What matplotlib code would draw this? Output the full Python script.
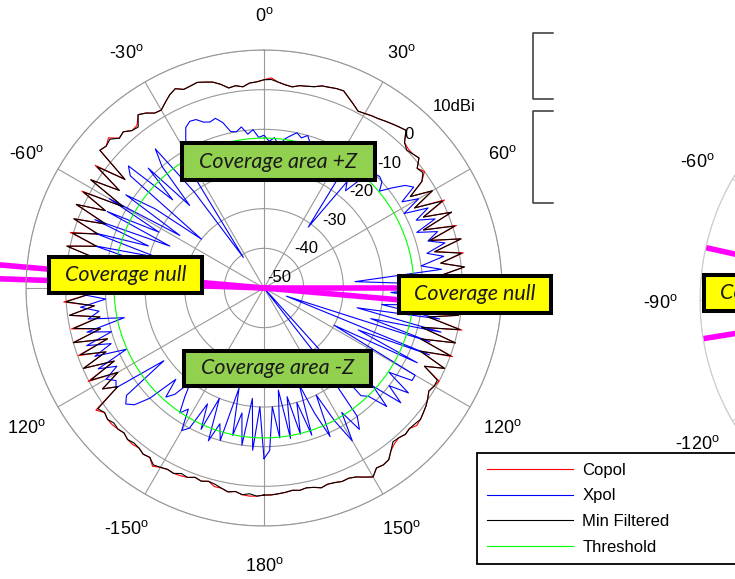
import numpy as np
import matplotlib.pyplot as plt
from matplotlib.patches import Rectangle
from matplotlib.lines import Line2D
from matplotlib.transforms import offset_copy

plt.rcParams['font.family'] = ['Liberation Sans', 'DejaVu Sans']
plt.rcParams['mathtext.fontset'] = 'custom'
plt.rcParams['mathtext.rm'] = 'Liberation Sans'

W, H = 735, 579

# antenna cut, 2 deg steps from -180 to 178 deg, values in dBi
angle_deg = np.arange(-180, 180, 2)

copol = [
    2.2, 2.5, 2.6, 2.4, 1.8, 2.2, 1.6, 1.6, 0.7, 1.2,
    0.8, 1.5, 1.8, 2.0, 1.8, 2.2, 3.0, 1.5, 1.8, 1.2,
    1.5, 1.4, 0.8, 1.2, 1.5, 1.5, 1.0, 2.4, -5.5, -2.0,
    -7.5, 0.2, -8.0, -0.2, -7.0, -0.2, -8.5, 0.0, -7.5, -0.4,
    -8.0, -0.5, -7.0, 0.6, -6.0, -0.5, -5.0, 0.0, -6.5, 1.0,
    -7.0, 0.8, -6.5, 0.8, -6.0, 1.0, -7.0, 1.8, -5.5, 2.0,
    -9.0, 1.5, -6.0, 2.6, -5.5, 4.0, 3.5, 4.5, 2.5, 3.0,
    1.8, 2.0, 4.0, 3.2, 2.0, 1.8, 3.0, 4.2, 5.0, 4.0,
    4.2, 4.5, 4.0, 3.5, 2.5, 1.2, 1.5, 1.0, 1.8, 2.0,
    2.5, 3.0, 2.0, 1.5, 1.2, 1.8, 2.0, 2.3, 3.0, 3.2,
    3.5, 3.6, 2.5, 1.5, 0.5, 0.8, 1.2, 1.5, 2.0, 2.5,
    3.0, 3.5, 1.0, 0.5, 0.5, 1.0, -1.0, 0.0, -2.0, -6.5,
    -1.0, -7.0, 0.6, -6.0, 1.0, -7.2, 1.0, -6.5, 1.2, -6.0,
    1.0, -5.0, 0.8, -5.5, 0.0, -5.0, 0.2, -6.0, 0.6, -0.5,
    -8.0, 1.0, -9.0, 0.2, -8.5, 0.6, -7.5, -0.2, -5.0, 0.0,
    -0.5, -1.0, -0.2, 0.5, 1.0, 1.5, 1.8, 1.0, 1.3, 0.8,
    1.2, 2.0, 3.5, 3.8, 3.5, 5.0, 4.0, 3.0, 2.5, 2.6,
    2.2, 2.0, 2.4, 1.8, 1.5, 1.8, 1.5, 1.8, 2.0, 2.2,
]

xpol = [
    -7.0, -20.0, -9.0, -22.0, -10.0, -18.0, -12.0, -24.0, -10.0, -14.0,
    -9.0, -20.0, -11.0, -17.5, -10.0, -8.5, -14.0, -12.0, -16.0, -20.0,
    -15.0, -13.0, -18.0, -10.0, -6.0, -4.5, -6.0, -18.8, -5.0, -6.0,
    -4.0, -8.0, -3.5, -12.0, -4.0, -9.0, -3.0, -10.0, -4.0, -14.0,
    -5.0, -8.0, -3.5, -10.0, -4.0, -6.0, -4.0, -15.0, -4.0, -20.0,
    -5.0, -18.0, -6.0, -22.0, -5.0, -19.0, -4.0, -24.0, -6.0, -20.0,
    -5.0, -25.0, -8.0, -16.0, -30.0, -6.0, -4.0, -18.0, -8.0, -22.0,
    -10.0, -5.5, -20.0, -40.7, -15.0, -12.0, -8.0, -5.0, -4.0, -4.2,
    -5.5, -6.0, -5.5, -7.0, -9.7, -10.0, -9.0, -11.0, -10.0, -12.0,
    -11.5, -13.0, -12.0, -14.0, -12.0, -11.0, -10.0, -11.0, -10.0, -12.0,
    -12.0, -13.0, -12.0, -14.0, -13.0, -15.0, -14.0, -16.0, -31.0, -16.0,
    -18.0, -12.0, -10.0, -9.5, -10.0, -12.0, -9.0, -6.0, -4.5, -9.0,
    -5.0, -10.0, -4.0, -8.0, -3.5, -9.0, -4.0, -7.0, -3.0, -8.0,
    -4.0, -10.0, -5.0, -27.0, -15.0, -6.0, -18.0, -5.0, -9.0, -20.0,
    -5.0, -26.0, -4.0, -22.0, -6.0, -44.0, -5.0, -24.0, -7.0, -30.0,
    -6.0, -6.0, -12.0, -5.0, -10.0, -5.0, -13.0, -7.0, -12.0, -13.5,
    -50.0, -29.0, -10.0, -7.0, -13.0, -5.5, -12.0, -20.0, -9.0, -16.0,
    -24.0, -11.0, -20.0, -12.0, -22.0, -11.5, -24.0, -12.0, -20.0, -9.0,
]

min_filtered = [
    2.2, 2.5, 2.0, 2.4, 1.8, 2.2, 1.6, 1.0, 0.7, 1.2,
    0.8, 1.5, 1.2, 2.0, 1.8, 2.2, 2.6, 1.5, 1.8, 1.2,
    1.0, 1.4, 0.8, 1.2, 0.9, 1.5, 1.0, 1.8, -5.5, -2.0,
    -7.5, -0.5, -8.0, -0.2, -7.0, -0.8, -8.5, 0.0, -7.5, -1.0,
    -8.0, -0.5, -7.0, 0.0, -6.0, -0.5, -5.0, 0.0, -6.5, 0.5,
    -7.0, 0.8, -6.5, 0.2, -6.0, 1.0, -7.0, 1.8, -5.5, 1.5,
    -9.0, 1.5, -6.0, 2.0, -5.5, 4.0, 3.5, 4.0, 2.5, 3.0,
    1.8, 1.5, 4.0, 3.2, 2.0, 1.8, 3.0, 4.2, 5.0, 4.0,
    4.2, 4.5, 4.0, 3.5, 2.5, 1.2, 1.5, 1.0, 1.8, 2.0,
    2.5, 2.6, 2.0, 1.5, 1.2, 1.8, 2.0, 2.3, 3.0, 3.2,
    3.5, 3.6, 2.5, 1.5, 0.5, 0.8, 1.2, 1.5, 2.0, 2.5,
    3.0, 3.5, 1.0, 0.0, 0.5, 1.0, -1.0, -0.5, -2.0, -6.5,
    -1.0, -7.0, 0.0, -6.0, 1.0, -7.2, 0.5, -6.5, 1.2, -6.0,
    0.5, -5.0, 0.8, -5.5, 0.0, -5.0, 0.2, -6.0, 0.0, -0.5,
    -8.0, 0.5, -9.0, 0.2, -8.5, 0.0, -7.5, -0.2, -5.0, -0.5,
    -0.5, -1.0, -0.2, 0.5, 1.0, 1.5, 1.2, 1.0, 1.3, 0.8,
    0.6, 2.0, 3.5, 3.8, 3.5, 5.0, 4.0, 3.0, 2.5, 2.6,
    2.2, 2.0, 2.4, 1.8, 1.5, 1.8, 1.5, 1.8, 2.0, 2.2,
]

threshold_db = -12.2

# coverage null boundaries, deg
null_left = [-85, -88]
null_right = [90, 95]
null_next_cut = [-77.5, -99.2]

r_min, r_max = -50, 10
ring_values = [-50, -40, -30, -20, -10, 0, 10]
ring_labels = ['-50', '-40', '-30', '-20', '-10', '0', '10dBi']
theta_ticks = [0, 30, 60, 120, 150, 180, -150, -120, -60, -30]
theta_labels = ['0', '30', '60', '120', '150', '180', '-150', '120', '-60', '-30']
next_cut_ticks = [-60, -90, -120]

legend_labels = ['Copol', 'Xpol', 'Min Filtered', 'Threshold']

annotations = [
    ('Coverage area +Z', '#92d050', (180, 141, 377, 182)),
    ('Coverage null', '#ffff00', (47, 255, 204, 295)),
    ('Coverage null', '#ffff00', (397, 274, 553, 315)),
    ('Coverage area -Z', '#92d050', (182, 349, 373, 388)),
    ('Coverage null', '#ffff00', (702, 273, 860, 313)),
]


def px_rect(x0, y0, x1, y1):
    return [x0 / W, 1 - y1 / H, (x1 - x0) / W, (y1 - y0) / H]


def setup_polar(ax, grid_color):
    ax.set_theta_zero_location('N')
    ax.set_theta_direction(-1)
    ax.set_rlim(r_min, r_max)
    ax.set_rticks(ring_values[1:])
    ax.set_thetagrids(np.arange(0, 360, 30))
    ax.set_xticklabels([])
    ax.set_yticklabels([])
    ax.tick_params(length=0)
    ax.grid(True, color=grid_color, lw=0.8, ls='-')
    ax.spines['polar'].set_color(grid_color)
    ax.spines['polar'].set_linewidth(0.8)


def closed(values):
    th = np.deg2rad(np.append(angle_deg, angle_deg[0] + 360))
    return th, np.append(values, values[0])


fig = plt.figure(figsize=(W / 100, H / 100), dpi=100)

ax = fig.add_axes(px_rect(26, 50, 502, 526), projection='polar')
setup_polar(ax, '#999999')

lines = []
for data, col, lab in zip([copol, xpol, min_filtered], ['#ff0000', '#0000ff', 'black'], legend_labels[:3]):
    th, r = closed(data)
    ln, = ax.plot(th, r, color=col, lw=0.8, label=lab)
    lines.append(ln)
th_full = np.linspace(0, 2 * np.pi, 361)
ln, = ax.plot(th_full, np.full_like(th_full, threshold_db), color='#00ff00', lw=0.8, label=legend_labels[3])
lines.append(ln)

for a in null_left:
    ax.plot([np.deg2rad(a)] * 2, [r_min, 20], color='#ff00ff', lw=4, clip_on=False, solid_capstyle='butt')
for a in null_right:
    ax.plot([np.deg2rad(a)] * 2, [r_min, 0], color='#ff00ff', lw=4, solid_capstyle='butt')

theta_tr = offset_copy(ax.transData, fig=fig, x=0, y=-3, units='dots')
for a, lab in zip(theta_ticks, theta_labels):
    ax.text(np.deg2rad(a), 19.3, lab + r'$^\mathrm{o}$', transform=theta_tr,
            ha='center', va='center', fontsize=13)

ring_tr = offset_copy(ax.transData, fig=fig, x=3, y=6, units='dots')
for v, lab in zip(ring_values, ring_labels):
    ax.text(np.deg2rad(44), v, lab, transform=ring_tr, ha='left', va='baseline', fontsize=12)

# next cut, only its left edge fits in the figure
ax2 = fig.add_axes(px_rect(700, 58, 1184, 542), projection='polar')
setup_polar(ax2, '#cccccc')
for a in null_next_cut:
    ax2.plot([np.deg2rad(a)] * 2, [r_min, r_max], color='#ff00ff', lw=4, solid_capstyle='butt')
theta_tr2 = offset_copy(ax2.transData, fig=fig, x=0, y=-3, units='dots')
for a in next_cut_ticks:
    ax2.text(np.deg2rad(a), 19.9, f'{a}' + r'$^\mathrm{o}$', transform=theta_tr2,
             ha='center', va='center', fontsize=13)

for text, face, (x0, y0, x1, y1) in annotations:
    fig.add_artist(Rectangle(((x0 + 2) / W, 1 - (y1 - 2) / H), (x1 - x0 - 4) / W, (y1 - y0 - 4) / H,
                             transform=fig.transFigure, facecolor=face, edgecolor='black', lw=2.9))
    fig.text((x0 + x1) / 2 / W, 1 - (y0 + y1) / 2 / H, text, ha='center', va='center',
             fontsize=15.5, family='Lato', style='italic', color='#1a1a1a')

for y0, y1 in [(33, 99), (111, 203)]:
    fig.add_artist(Line2D([553 / W, 533 / W, 533 / W, 553 / W], [1 - y0 / H, 1 - y0 / H, 1 - y1 / H, 1 - y1 / H],
                          color='#333333', lw=1.1))

leg = fig.legend(handles=lines, labels=legend_labels, loc='upper left',
                 bbox_to_anchor=(477 / W, 1 - 562 / H, 300 / W, 109 / H), mode='expand', borderaxespad=0,
                 fontsize=12, handlelength=5.2, handletextpad=0.55, borderpad=0.58, labelspacing=0.64,
                 fancybox=False, framealpha=1)
leg.get_frame().set_edgecolor('black')
leg.get_frame().set_linewidth(1.3)

fig.savefig('out.png', dpi=100, facecolor='white')
